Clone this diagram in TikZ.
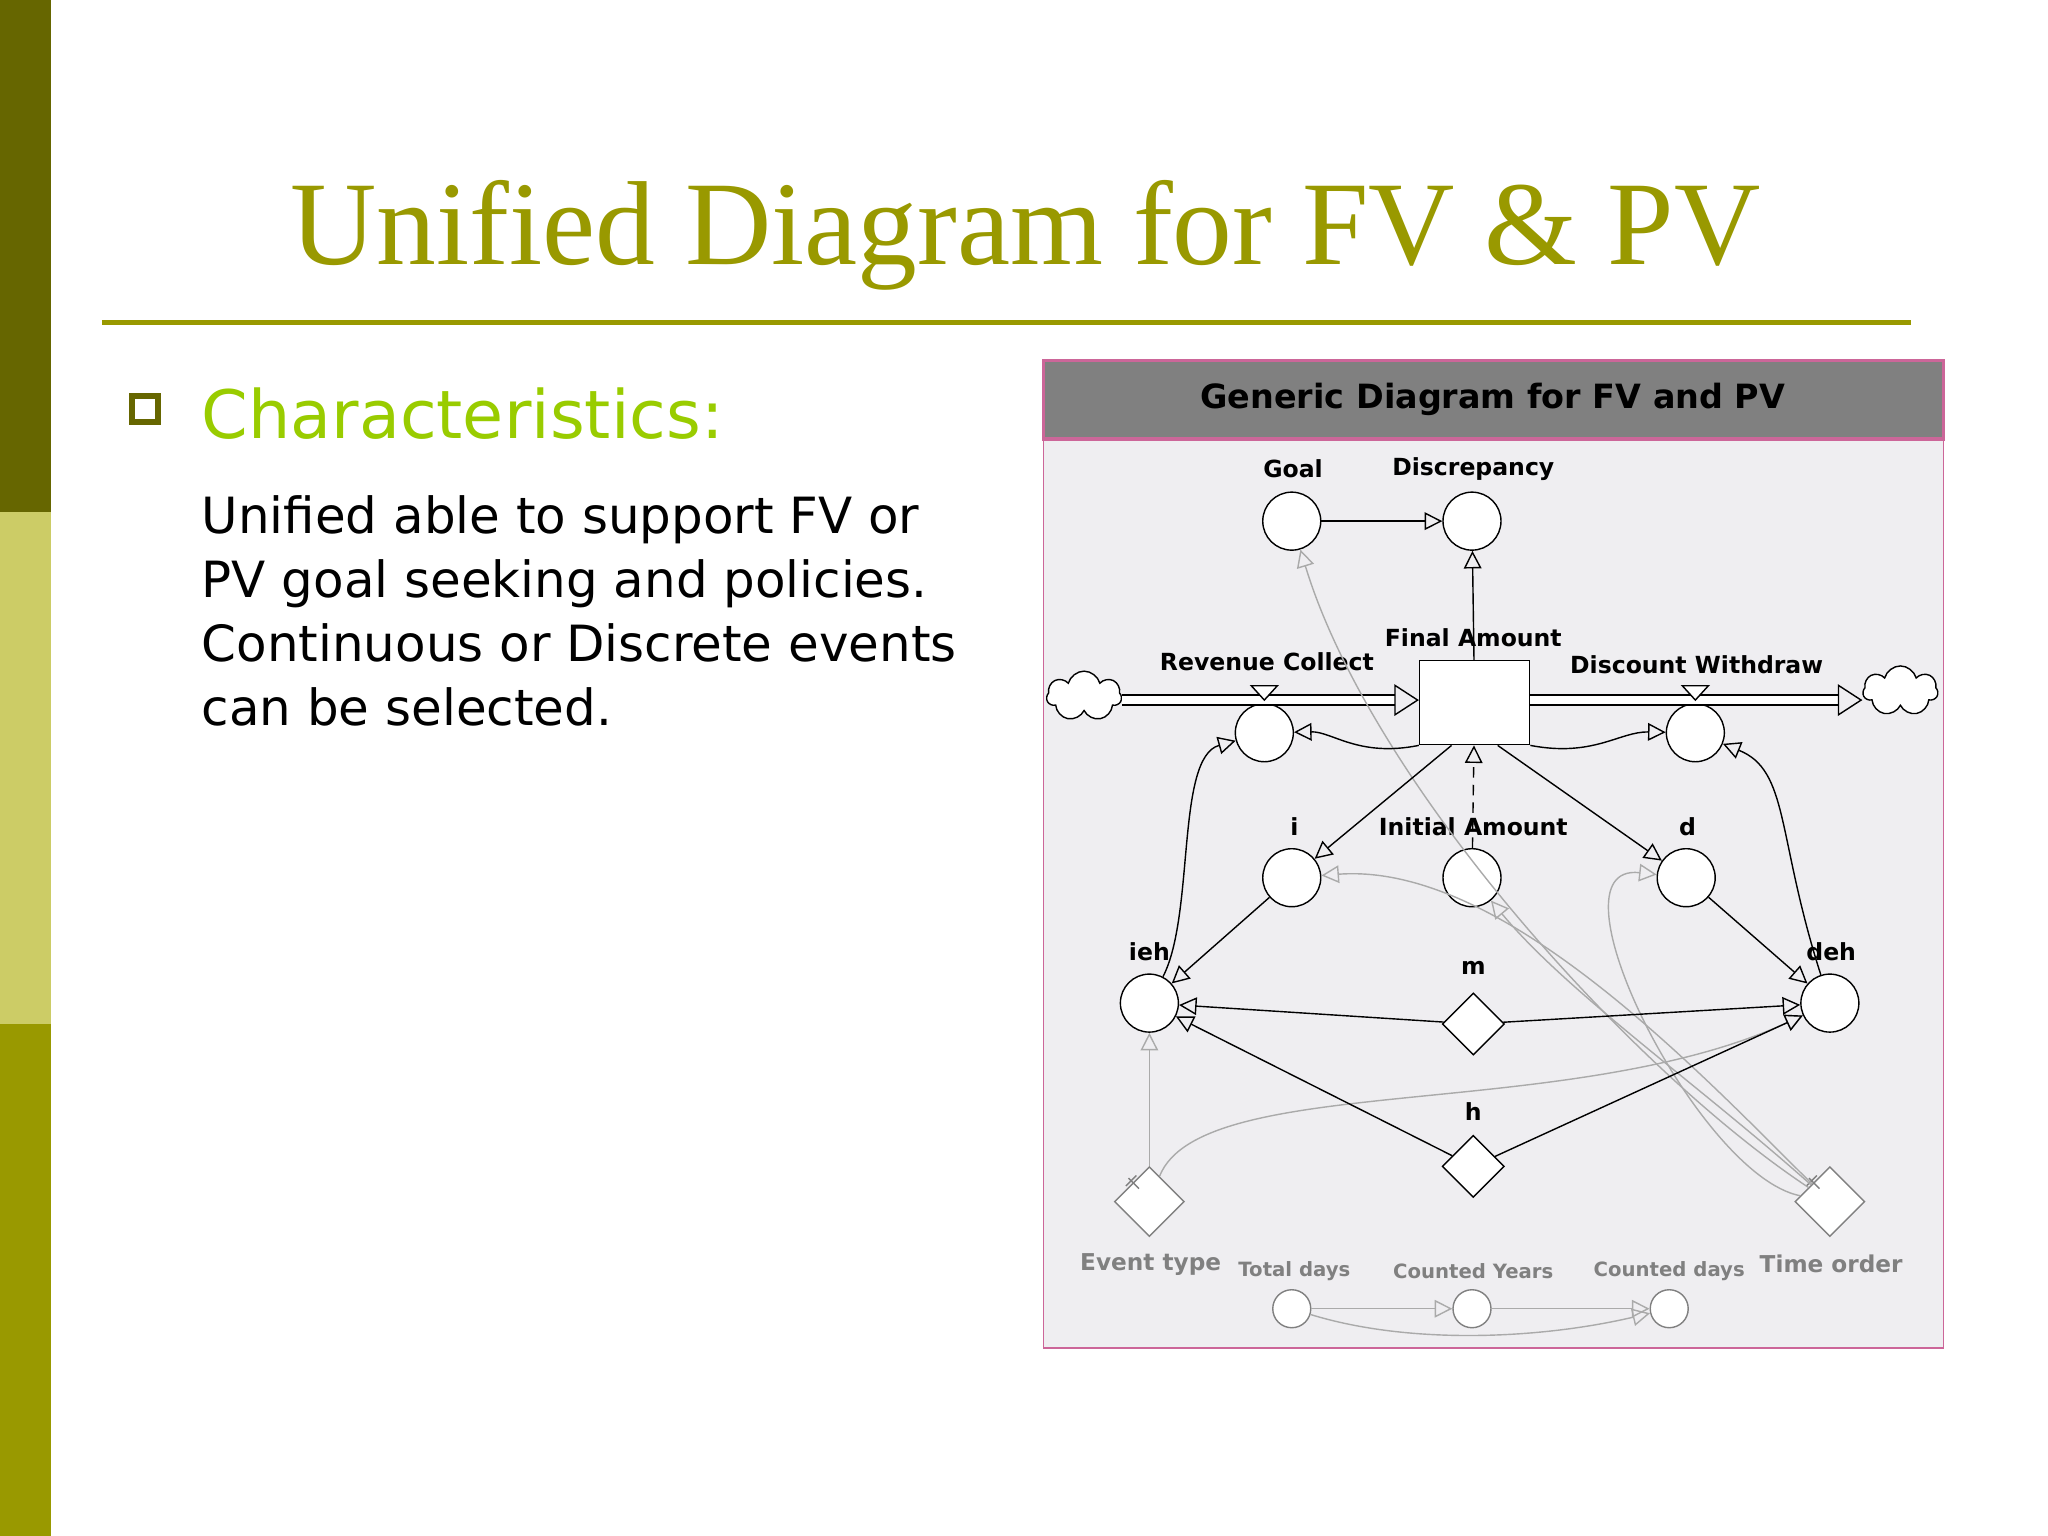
\documentclass[tikz,border=0pt]{standalone}
\usepackage{fontspec}
\setmainfont{DejaVu Sans}
\newfontfamily\ttl{Liberation Serif}
\usetikzlibrary{arrows.meta,shapes.geometric,shapes.symbols}
\definecolor{olv}{HTML}{999900}
\definecolor{dolv}{HTML}{666600}
\definecolor{lolv}{HTML}{CCCC66}
\definecolor{lgr}{HTML}{99CC00}
\definecolor{pnl}{HTML}{EFEEF1}
\definecolor{pnk}{HTML}{CC6699}
\definecolor{gl}{HTML}{AAAAAA}
\begin{document}
\begin{tikzpicture}[x=0.013061cm,y=-0.013061cm,
 v/.style={circle,draw,fill=white,minimum size=0.58cm,inner sep=0pt},
 dm/.style={diamond,draw,fill=white,minimum size=0.62cm,inner sep=0pt},
 lb/.style={font=\fontsize{6.7}{7}\selectfont\bfseries},
 glb/.style={font=\fontsize{5.6}{7}\selectfont\bfseries,text=gray},
 ar/.style={-{Triangle[open,length=5pt,width=5pt]}},
 gar/.style={draw=gl,-{Triangle[open,length=5pt,width=5pt]}},
 pipe/.style={double=white,double distance=2.5pt,thin}]
\useasboundingbox (0,0) rectangle (1568,1176);
\fill[white] (0,0) rectangle (1568,1176);
\fill[dolv] (0,0) rectangle (39,392);
\fill[lolv] (0,392) rectangle (39,784);
\fill[olv] (0,784) rectangle (39,1176);
\node[font=\ttl\fontsize{34}{38}\selectfont,text=olv] (title) at (785,180) {Unified Diagram for FV \& PV};
\draw[olv,line width=1.2pt] (78,247) -- (1463,247);
\node[draw=dolv,fill=white,line width=1.6pt,minimum size=0.26cm,inner sep=0pt] (bul) at (111,313) {};
\node[anchor=west,text=lgr,font=\fontsize{19}{22}\selectfont] (ch) at (145,317) {Characteristics:};
\node[anchor=north west,align=left,font=\fontsize{14.2}{18.2}\selectfont] (body) at (145,370) {Unified able to support FV or\\PV goal seeking and policies.\\Continuous or Discrete events\\can be selected.};
% panel
\draw[pnk,fill=pnl] (799,276) rectangle (1488,1032);
\draw[pnk,fill=gray,line width=1pt] (799,276) rectangle (1488,336);
\node[font=\fontsize{9.5}{11}\selectfont\bfseries] (hd) at (1143,306) {Generic Diagram for FV and PV};
% nodes
\node[v] (goal) at (989,399) {}; \node[lb] at (990,359) {Goal};
\node[v] (disc) at (1127,399) {}; \node[lb] at (1128,359) {Discrepancy};
\node[draw,fill=white,minimum width=1.1cm,minimum height=0.84cm] (fa) at (1129,538) {};
\node[lb] at (1128,488) {Final Amount};
\node[v] (rc) at (968,561) {}; \node[lb] at (970,507) {Revenue Collect};
\node[v] (dw) at (1298,561) {}; \node[lb] at (1299,509) {Discount Withdraw};
\node[cloud,draw,fill=white,cloud puffs=7,minimum width=0.75cm,minimum height=0.5cm,inner sep=0pt] (c1) at (830,533) {};
\node[cloud,draw,fill=white,cloud puffs=7,minimum width=0.75cm,minimum height=0.5cm,inner sep=0pt] (c2) at (1455,529) {};
\node[v] (i) at (989,672) {}; \node[lb] at (991,633) {i};
\node[v] (ia) at (1127,672) {}; \node[lb] at (1128,633) {Initial Amount};
\node[v] (d) at (1291,672) {}; \node[lb] at (1292,633) {d};
\node[v] (ieh) at (880,768) {}; \node[lb] at (880,729) {ieh};
\node[v] (deh) at (1401,768) {}; \node[lb] at (1402,729) {deh};
\node[dm] (m) at (1128,784) {}; \node[lb] at (1128,741) {m};
\node[dm] (h) at (1128,893) {}; \node[lb] at (1128,851) {h};
\node[dm,draw=gray,minimum size=0.7cm] (et) at (880,920) {}; \node[glb,font=\fontsize{6.6}{8}\selectfont\bfseries] at (881,968) {Event type};
\node[dm,draw=gray,minimum size=0.7cm] (to) at (1401,920) {}; \node[glb,font=\fontsize{6.6}{8}\selectfont\bfseries] at (1402,968) {Time order};
\draw[gray] (864,902) -- (872,910) (862,908) -- (870,900);
\draw[gray] (1385,902) -- (1393,910) (1383,908) -- (1391,900);
\node[v,draw=gray,minimum size=0.38cm] (td) at (989,1002) {}; \node[glb] at (991,973) {Total days};
\node[v,draw=gray,minimum size=0.38cm] (cy) at (1127,1002) {}; \node[glb] at (1128,973) {Counted Years};
\node[v,draw=gray,minimum size=0.38cm] (cd) at (1278,1002) {}; \node[glb] at (1278,973) {Counted days};
% flows
\draw[pipe,-{Triangle[open,length=7pt,width=9pt]}] (c1.east|-1129,536) -- (fa.west|-1129,536);
\draw[pipe,-{Triangle[open,length=7pt,width=9pt]}] (fa.east|-1129,536) -- (c2.west|-1129,536);
\draw[fill=white] (958,525) -- (978,525) -- (968,536) -- cycle;
\draw[fill=white] (1288,525) -- (1308,525) -- (1298,536) -- cycle;
% gray connectors (behind)
\draw[gar] (to) .. controls (1250,820) and (1050,600) .. (goal);
\draw[gar] (to) .. controls (1300,820) and (1150,660) .. (i);
\draw[gar] (to) .. controls (1300,830) and (1200,760) .. (ia);
\draw[gar] (to) .. controls (1300,900) and (1180,660) .. (d);
\draw[gar] (et) -- (ieh);
\draw[gar] (et) .. controls (920,820) and (1200,860) .. (deh);
\draw[gar] (td) -- (cy);
\draw[gar] (cy) -- (cd);
\draw[gar] (td) .. controls (1080,1030) and (1180,1025) .. (cd);
% black connectors
\draw[ar] (goal) -- (disc);
\draw[ar] (fa) -- (disc);
\draw[ar] (fa.south west) .. controls (1040,580) and (1020,560) .. (rc);
\draw[ar] (fa.south east) .. controls (1220,580) and (1240,560) .. (dw);
\draw[ar] (fa.south west) ++(25,0) -- (i);
\draw[ar] (fa.south east) ++(-25,0) -- (d);
\draw[ar,densely dashed] (ia) -- (fa);
\draw[ar] (i) -- (ieh);
\draw[ar] (d) -- (deh);
\draw[ar] (ieh) .. controls (915,700) and (900,580) .. (rc);
\draw[ar] (deh) .. controls (1360,640) and (1370,590) .. (dw);
\draw[ar] (m) -- (ieh);
\draw[ar] (m) -- (deh);
\draw[ar] (h) -- (ieh);
\draw[ar] (h) -- (deh);
\end{tikzpicture}
\end{document}
